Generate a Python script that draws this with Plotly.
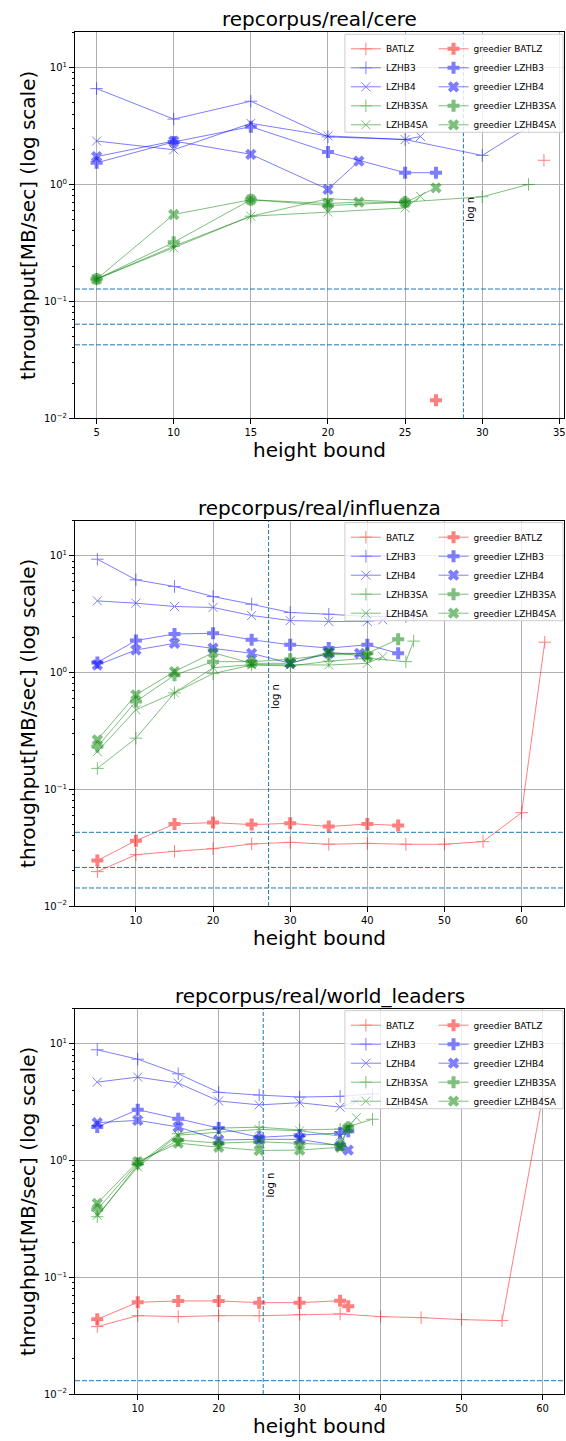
import math
import plotly.graph_objects as go

# ---------------- data ----------------
TITLES = ["repcorpus/real/cere", "repcorpus/real/influenza", "repcorpus/real/world_leaders"]
SERIES = ["BATLZ", "LZHB3", "LZHB4", "LZHB3SA", "LZHB4SA"]
X_LABEL = "height bound"
Y_LABEL = "throughput[MB/sec] (log scale)"
Y_TICK_VALS = [0.01, 0.1, 1, 10]
Y_TICK_TEXT = ["10<sup>\u22122</sup>", "10<sup>\u22121</sup>", "10<sup>0</sup>", "10<sup>1</sup>"]

# cere
CERE_BATLZ_X = [34]
CERE_BATLZ_Y = [1.61]
CERE_LZHB3_X = [5, 10, 15, 20, 25, 30, 33]
CERE_LZHB3_Y = [6.6, 3.62, 5.15, 2.55, 2.42, 1.77, 3.12]
CERE_LZHB4_X = [5, 10, 15, 20, 25, 26]
CERE_LZHB4_Y = [2.35, 1.98, 3.33, 2.6, 2.42, 2.57]
CERE_LZHB3SA_X = [5, 10, 15, 20, 25, 30, 33]
CERE_LZHB3SA_Y = [0.155, 0.296, 0.535, 0.754, 0.706, 0.784, 1.0]
CERE_LZHB4SA_X = [5, 10, 15, 20, 25, 26]
CERE_LZHB4SA_Y = [0.155, 0.287, 0.535, 0.58, 0.63, 0.79]
CERE_G_BATLZ_X = [27]
CERE_G_BATLZ_Y = [0.0143]
CERE_G_LZHB3_X = [5, 10, 15, 20, 25, 27]
CERE_G_LZHB3_Y = [1.53, 2.31, 3.12, 1.89, 1.26, 1.26]
CERE_G_LZHB4_X = [5, 10, 15, 20, 22]
CERE_G_LZHB4_Y = [1.73, 2.35, 1.81, 0.906, 1.58]
CERE_G_LZHB3SA_X = [5, 10, 15, 20, 25]
CERE_G_LZHB3SA_Y = [0.155, 0.32, 0.74, 0.66, 0.706]
CERE_G_LZHB4SA_X = [5, 10, 15, 20, 22, 25, 27]
CERE_G_LZHB4SA_Y = [0.155, 0.553, 0.74, 0.687, 0.706, 0.70, 0.936]
CERE_HLINES = [0.1275, 0.06375, 0.0425]
CERE_LOGN = 28.78

# influenza
FLU_BATLZ_X = [5, 10, 15, 20, 25, 30, 35, 40, 45, 50, 55, 60, 63]
FLU_BATLZ_Y = [0.0197, 0.0275, 0.0294, 0.031, 0.034, 0.0351, 0.0338, 0.0344, 0.0338, 0.0338, 0.0356, 0.063, 1.82]
FLU_LZHB3_X = [5, 10, 15, 20, 25, 30, 35, 40, 45, 46]
FLU_LZHB3_Y = [9.36, 6.23, 5.46, 4.48, 3.85, 3.27, 3.16, 3.02, 3.02, 3.12]
FLU_LZHB4_X = [5, 10, 15, 20, 25, 30, 35, 40, 42]
FLU_LZHB4_Y = [4.11, 3.93, 3.68, 3.61, 3.08, 2.79, 2.74, 2.74, 2.83]
FLU_LZHB3SA_X = [5, 10, 15, 20, 25, 30, 35, 40, 45, 46]
FLU_LZHB3SA_Y = [0.151, 0.274, 0.67, 0.98, 1.16, 1.14, 1.25, 1.33, 1.24, 1.86]
FLU_LZHB4SA_X = [5, 10, 15, 20, 25, 30, 35, 40, 42]
FLU_LZHB4SA_Y = [0.21, 0.48, 0.67, 1.1, 1.17, 1.16, 1.16, 1.2, 1.37]
FLU_G_BATLZ_X = [5, 10, 15, 20, 25, 30, 35, 40, 44]
FLU_G_BATLZ_Y = [0.0245, 0.0363, 0.0504, 0.0518, 0.0498, 0.0511, 0.0479, 0.0504, 0.049]
FLU_G_LZHB3_X = [5, 10, 15, 20, 25, 30, 35, 40, 44]
FLU_G_LZHB3_Y = [1.22, 1.88, 2.14, 2.17, 1.91, 1.73, 1.62, 1.73, 1.46]
FLU_G_LZHB4_X = [5, 10, 15, 20, 25, 30, 35, 39]
FLU_G_LZHB4_Y = [1.16, 1.56, 1.78, 1.62, 1.46, 1.2, 1.46, 1.46]
FLU_G_LZHB3SA_X = [5, 10, 15, 20, 25, 30, 35, 40, 44]
FLU_G_LZHB3SA_Y = [0.232, 0.565, 0.95, 1.24, 1.24, 1.3, 1.42, 1.46, 1.93]
FLU_G_LZHB4SA_X = [5, 10, 15, 20, 25, 30, 35, 40]
FLU_G_LZHB4SA_Y = [0.265, 0.644, 1.02, 1.48, 1.2, 1.2, 1.5, 1.37]
FLU_HLINES = [0.0428, 0.0214, 0.01427]
FLU_LOGN = 27.2

# world_leaders
WL_BATLZ_X = [5, 10, 15, 20, 25, 30, 35, 40, 45, 50, 55, 60]
WL_BATLZ_Y = [0.0378, 0.0469, 0.046, 0.0469, 0.0469, 0.048, 0.0485, 0.046, 0.0451, 0.0434, 0.0425, 3.5]
WL_LZHB3_X = [5, 10, 15, 20, 25, 30, 35, 39]
WL_LZHB3_Y = [8.89, 7.39, 5.54, 3.84, 3.64, 3.5, 3.55, 3.72]
WL_LZHB4_X = [5, 10, 15, 20, 25, 30, 35, 37]
WL_LZHB4_Y = [4.7, 5.19, 4.61, 3.24, 3.0, 3.13, 2.87, 3.22]
WL_LZHB3SA_X = [5, 10, 15, 20, 25, 30, 35, 39]
WL_LZHB3SA_Y = [0.33, 0.92, 1.7, 1.9, 1.93, 1.83, 1.86, 2.26]
WL_LZHB4SA_X = [5, 10, 15, 20, 25, 30, 35, 37]
WL_LZHB4SA_Y = [0.34, 0.88, 1.65, 1.75, 1.85, 1.8, 1.62, 2.33]
WL_G_BATLZ_X = [5, 10, 15, 20, 25, 30, 35, 36]
WL_G_BATLZ_Y = [0.0437, 0.061, 0.0627, 0.0627, 0.0606, 0.0606, 0.063, 0.0565]
WL_G_LZHB3_X = [5, 10, 15, 20, 25, 30, 35, 36]
WL_G_LZHB3_Y = [1.94, 2.73, 2.28, 1.9, 1.58, 1.65, 1.72, 1.78]
WL_G_LZHB4_X = [5, 10, 15, 20, 25, 30, 35, 36]
WL_G_LZHB4_Y = [2.11, 2.21, 1.94, 1.5, 1.52, 1.52, 1.34, 1.23]
WL_G_LZHB3SA_X = [5, 10, 15, 20, 25, 30, 35, 36]
WL_G_LZHB3SA_Y = [0.38, 0.95, 1.5, 1.41, 1.45, 1.41, 1.36, 1.93]
WL_G_LZHB4SA_X = [5, 10, 15, 20, 25, 30, 35, 36]
WL_G_LZHB4SA_Y = [0.43, 0.98, 1.41, 1.3, 1.22, 1.23, 1.3, 1.9]
WL_HLINES = [0.013]
WL_LOGN = 25.5

PANELS = [
    {
        "plain": {"BATLZ": (CERE_BATLZ_X, CERE_BATLZ_Y), "LZHB3": (CERE_LZHB3_X, CERE_LZHB3_Y),
                  "LZHB4": (CERE_LZHB4_X, CERE_LZHB4_Y), "LZHB3SA": (CERE_LZHB3SA_X, CERE_LZHB3SA_Y),
                  "LZHB4SA": (CERE_LZHB4SA_X, CERE_LZHB4SA_Y)},
        "greedy": {"BATLZ": (CERE_G_BATLZ_X, CERE_G_BATLZ_Y), "LZHB3": (CERE_G_LZHB3_X, CERE_G_LZHB3_Y),
                   "LZHB4": (CERE_G_LZHB4_X, CERE_G_LZHB4_Y), "LZHB3SA": (CERE_G_LZHB3SA_X, CERE_G_LZHB3SA_Y),
                   "LZHB4SA": (CERE_G_LZHB4SA_X, CERE_G_LZHB4SA_Y)},
        "hlines": CERE_HLINES, "logn": CERE_LOGN,
    },
    {
        "plain": {"BATLZ": (FLU_BATLZ_X, FLU_BATLZ_Y), "LZHB3": (FLU_LZHB3_X, FLU_LZHB3_Y),
                  "LZHB4": (FLU_LZHB4_X, FLU_LZHB4_Y), "LZHB3SA": (FLU_LZHB3SA_X, FLU_LZHB3SA_Y),
                  "LZHB4SA": (FLU_LZHB4SA_X, FLU_LZHB4SA_Y)},
        "greedy": {"BATLZ": (FLU_G_BATLZ_X, FLU_G_BATLZ_Y), "LZHB3": (FLU_G_LZHB3_X, FLU_G_LZHB3_Y),
                   "LZHB4": (FLU_G_LZHB4_X, FLU_G_LZHB4_Y), "LZHB3SA": (FLU_G_LZHB3SA_X, FLU_G_LZHB3SA_Y),
                   "LZHB4SA": (FLU_G_LZHB4SA_X, FLU_G_LZHB4SA_Y)},
        "hlines": FLU_HLINES, "logn": FLU_LOGN,
    },
    {
        "plain": {"BATLZ": (WL_BATLZ_X, WL_BATLZ_Y), "LZHB3": (WL_LZHB3_X, WL_LZHB3_Y),
                  "LZHB4": (WL_LZHB4_X, WL_LZHB4_Y), "LZHB3SA": (WL_LZHB3SA_X, WL_LZHB3SA_Y),
                  "LZHB4SA": (WL_LZHB4SA_X, WL_LZHB4SA_Y)},
        "greedy": {"BATLZ": (WL_G_BATLZ_X, WL_G_BATLZ_Y), "LZHB3": (WL_G_LZHB3_X, WL_G_LZHB3_Y),
                   "LZHB4": (WL_G_LZHB4_X, WL_G_LZHB4_Y), "LZHB3SA": (WL_G_LZHB3SA_X, WL_G_LZHB3SA_Y),
                   "LZHB4SA": (WL_G_LZHB4SA_X, WL_G_LZHB4SA_Y)},
        "hlines": WL_HLINES, "logn": WL_LOGN,
    },
]

# ---------------- layout geometry / style ----------------
W, H = 566, 1441
ML, MR, MT, MB = 75, 0, 32, 47
PW = W - ML - MR
PH = H - MT - MB


def fx(px):
    return (px - ML) / PW


def fy(py):
    return (H - MB - py) / PH


PANEL_TOP = [32.3, 520.7, 1008.7]
PANEL_BOT = [418.3, 906.0, 1394.0]
X_RANGES = [[3.6, 35.3], [2.1, 65.5], [2.25, 62.65]]
X_DTICK = [5, 10, 10]
Y_MAX = 20.0

COLORS = {"BATLZ": "#ff0000", "LZHB3": "#0000ff", "LZHB4": "#0000ff",
          "LZHB3SA": "#008000", "LZHB4SA": "#008000"}
THIN = {"BATLZ": "cross-thin", "LZHB3": "cross-thin", "LZHB4": "x-thin",
        "LZHB3SA": "cross-thin", "LZHB4SA": "x-thin"}
FAT = {"BATLZ": "cross", "LZHB3": "cross", "LZHB4": "x",
       "LZHB3SA": "cross", "LZHB4SA": "x"}
FONT = "DejaVu Sans"
VLINE_COLOR = "#1f77b4"

fig = go.Figure()
layout = dict(
    width=W, height=H,
    margin=dict(l=ML, r=MR, t=MT, b=MB, pad=0),
    paper_bgcolor="white", plot_bgcolor="white",
    font=dict(family=FONT, color="black", size=10),
    showlegend=True,
)
shapes = []
annotations = []

minor_vals = [m * 10 ** e for e in range(-2, 2) for m in range(2, 10)]

for i, panel in enumerate(PANELS):
    sfx = "" if i == 0 else str(i + 1)
    xa, ya = "x" + sfx, "y" + sfx
    leg1 = "legend" if i == 0 else "legend" + str(2 * i + 1)
    leg2 = "legend" + str(2 * i + 2)

    for name in SERIES:
        xs, ys = panel["plain"][name]
        c = COLORS[name]
        fig.add_trace(go.Scatter(
            x=xs, y=ys, name=name, mode="lines+markers", xaxis=xa, yaxis=ya,
            opacity=0.5, legend=leg1,
            line=dict(color=c, width=1),
            marker=dict(symbol=THIN[name], size=9, color=c, line=dict(width=1, color=c)),
        ))
    for name in SERIES:
        xs, ys = panel["greedy"][name]
        c = COLORS[name]
        fig.add_trace(go.Scatter(
            x=xs, y=ys, name="greedier " + name, mode="lines+markers", xaxis=xa, yaxis=ya,
            opacity=0.5, legend=leg2,
            line=dict(color=c, width=1),
            marker=dict(symbol=FAT[name], size=10, color=c, line=dict(width=0)),
        ))

    d0, d1 = fy(PANEL_BOT[i]), min(1.0, fy(PANEL_TOP[i]))
    layout["xaxis" + sfx] = dict(
        domain=[0, 1], anchor=ya, range=X_RANGES[i], tickmode="linear", tick0=0, dtick=X_DTICK[i],
        ticks="outside", ticklen=5, tickwidth=1, tickcolor="black", ticklabeloverflow="allow",
        showline=True, mirror=True, linecolor="black", linewidth=1,
        showgrid=True, gridcolor="#b0b0b0", gridwidth=1, zeroline=False,
        tickfont=dict(size=10, family=FONT, color="black"),
        title=dict(text=X_LABEL, font=dict(size=20, family=FONT, color="black"), standoff=4),
    )
    layout["yaxis" + sfx] = dict(
        domain=[d0, d1], anchor=xa, type="log", range=[-2, math.log10(Y_MAX)],
        tickmode="array", tickvals=Y_TICK_VALS, ticktext=Y_TICK_TEXT,
        ticks="outside", ticklen=5, tickwidth=1, tickcolor="black",
        minor=dict(tickmode="array", tickvals=minor_vals, ticks="outside", ticklen=2.5,
                   tickcolor="black", tickwidth=0.8, showgrid=False),
        showline=True, mirror=True, linecolor="black", linewidth=1,
        showgrid=True, gridcolor="#b0b0b0", gridwidth=1, zeroline=False,
        tickfont=dict(size=10, family=FONT, color="black"),
        title=dict(text=Y_LABEL, font=dict(size=20, family=FONT, color="black"), standoff=2),
    )

    for v in panel["hlines"]:
        shapes.append(dict(type="line", xref=xa + " domain", x0=0, x1=1, yref=ya, y0=v, y1=v,
                           line=dict(color=VLINE_COLOR, width=1, dash="5px,2px"), layer="above"))
    shapes.append(dict(type="line", xref=xa, x0=panel["logn"], x1=panel["logn"],
                       yref=ya + " domain", y0=0, y1=1,
                       line=dict(color=VLINE_COLOR, width=1, dash="4px,2px"), layer="above"))
    annotations.append(dict(text="log n", xref=xa, x=panel["logn"], yref=ya, y=math.log10(0.62),
                            xanchor="left", yanchor="middle", textangle=-90, showarrow=False,
                            xshift=0, font=dict(size=10, family=FONT, color="black")))
    annotations.append(dict(text=TITLES[i], xref="paper", x=0.5, yref="paper", y=fy(PANEL_TOP[i]),
                            xanchor="center", yanchor="bottom", yshift=-1, showarrow=False,
                            font=dict(size=20, family=FONT, color="black")))

    # legend (two columns) with a common frame
    top = PANEL_TOP[i] + 2
    shapes.append(dict(type="rect", xref="paper", yref="paper",
                       x0=fx(346), x1=fx(565), y0=fy(top + 98), y1=fy(top),
                       fillcolor="rgba(255,255,255,0.8)", line=dict(color="#cccccc", width=1),
                       layer="above"))
    layout[leg1] = dict(x=fx(347), y=fy(top), xanchor="left", yanchor="top",
                        bgcolor="rgba(0,0,0,0)", borderwidth=0,
                        font=dict(size=9, family=FONT, color="black"), tracegroupgap=0)
    layout[leg2] = dict(x=fx(435), y=fy(top), xanchor="left", yanchor="top",
                        bgcolor="rgba(0,0,0,0)", borderwidth=0,
                        font=dict(size=9, family=FONT, color="black"), tracegroupgap=0)

layout["shapes"] = shapes
layout["annotations"] = annotations
fig.update_layout(**layout)
fig.write_html("out.html")
